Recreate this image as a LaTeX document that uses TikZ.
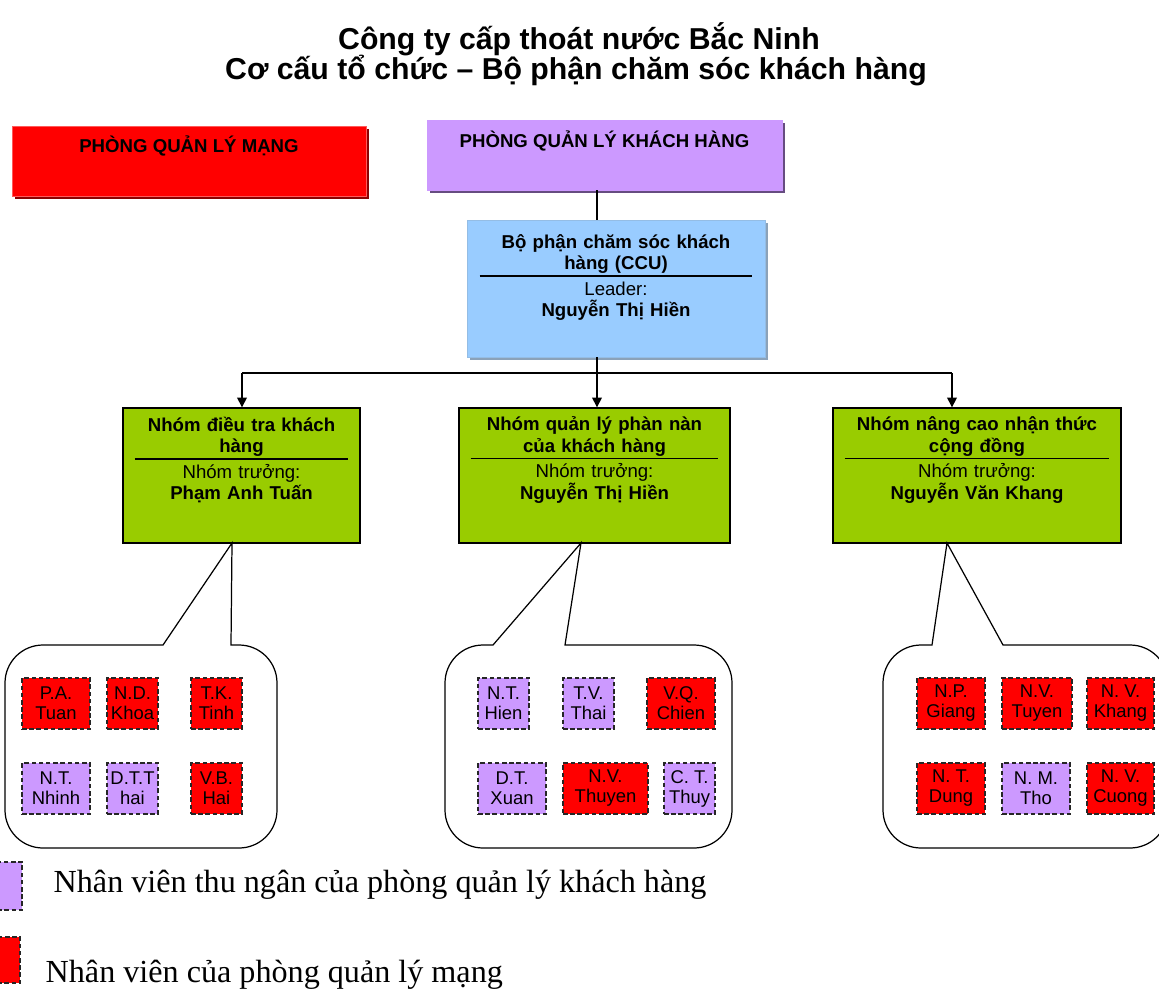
\documentclass[tikz,border=0pt]{standalone}
\usepackage{fontspec}
\setmainfont{Liberation Serif}
\newfontfamily\arialfont{Liberation Sans}
\usetikzlibrary{arrows.meta,positioning,shadows}

\definecolor{netred}{HTML}{FF0000}
\definecolor{custviolet}{HTML}{CC99FF}
\definecolor{ccublue}{HTML}{99CCFF}
\definecolor{teamgreen}{HTML}{99CC00}

\newcommand{\titlefont}{\arialfont\bfseries\fontsize{17.2}{19}\selectfont}
\newcommand{\deptfont}{\arialfont\bfseries\fontsize{10.6}{12.2}\selectfont}
\newcommand{\teamfont}{\arialfont\fontsize{10.6}{12.2}\selectfont}
\newcommand{\stafffont}{\arialfont\fontsize{10.5}{11.4}\selectfont}
\newcommand{\keyfont}{\fontsize{18.3}{20}\selectfont}

% two bold lines, a rule, the role and the bold name
\newcommand{\teamtext}[5]{\textbf{#1}\\\textbf{#2}\\[-8.2pt]\rule{#5}{0.9pt}\\[-1.6pt]#3\\\textbf{#4}}

% speech bubble: left x, right x, pointer base left x, pointer base right x, tip
\newcommand{\bubble}[5]{%
  \draw[bubbleline] (#3,645) -- (#5) -- (#4,645) -- ({#2-38},645)
    arc[start angle=-90, end angle=0, radius=38] -- (#2,810)
    arc[start angle=0, end angle=90, radius=38] -- ({#1+38},848)
    arc[start angle=90, end angle=180, radius=38] -- (#1,683)
    arc[start angle=180, end angle=270, radius=38] -- cycle;}

\begin{document}
\begin{tikzpicture}[x=0.02cm, y=-0.02cm, line width=0.8pt,
  ttl/.style={font=\titlefont, anchor=base},
  dept/.style={rectangle, inner sep=0pt, minimum height=1.4cm, line width=0.5pt},
  depttxt/.style={font=\deptfont, anchor=base},
  team/.style={rectangle, draw=black, fill=teamgreen, inner sep=0pt, minimum height=2.7cm},
  teamtxt/.style={font=\teamfont, align=center, inner sep=0pt},
  staff/.style={rectangle, draw=black!85, dash pattern=on 2.6pt off 1.5pt, line width=0.7pt,
    inner sep=0pt, minimum height=1.02cm, align=center, font=\stafffont},
  bubbleline/.style={draw=black, line width=0.7pt},
  link/.style={-{Triangle[length=5.5pt,width=5.5pt]}},
  key/.style={font=\keyfont, anchor=base west, inner sep=0pt}]
\useasboundingbox (0,0) rectangle (1159,990);

% title
\node[ttl] (ttl1) at (579,50) {Công ty cấp thoát nước Bắc Ninh};
\node[ttl] (ttl2) at (576,80) {Cơ cấu tổ chức – Bộ phận chăm sóc khách hàng};

% departments
\node[dept, fill=netred, draw=netred!65!white, minimum width=7.08cm,
  general shadow={fill=netred!55!black, shadow xshift=1.7pt, shadow yshift=-1.7pt}] (pqlm) at (189,161) {};
\node[depttxt] (pqlmtxt) at (189,153) {PHÒNG QUẢN LÝ MẠNG};
\node[dept, fill=custviolet, draw=custviolet, minimum width=7.1cm,
  general shadow={fill=custviolet!50!black, shadow xshift=1.7pt, shadow yshift=-1.7pt}] (pqlkh) at (604.5,155) {};
\node[depttxt] (pqlkhtxt) at (604.5,148) {PHÒNG QUẢN LÝ KHÁCH HÀNG};

% CCU
\node[dept, fill=ccublue, draw=ccublue!80!gray, minimum width=5.96cm, minimum height=2.74cm,
  general shadow={fill=ccublue!45!gray, shadow xshift=1.7pt, shadow yshift=-1.7pt}] (ccu) at (616,288.5) {};
\node[teamtxt, text width=5.46cm, below=8pt of ccu.north] (ccutxt)
  {\teamtext{Bộ phận chăm sóc khách}{hàng (CCU)}{Leader:}{Nguyễn Thị Hiền}{5.46cm}};

% teams
\node[team, minimum width=4.74cm] (g1) at (241.5,475.5) {};
\node[team, minimum width=5.42cm] (g2) at (594.5,475.5) {};
\node[team, minimum width=5.76cm] (g3) at (977,475.5) {};
\node[teamtxt, text width=4.28cm, below=5pt of g1.north] (g1txt)
  {\teamtext{Nhóm điều tra khách}{hàng}{Nhóm trưởng:}{Phạm Anh Tuấn}{4.28cm}};
\node[teamtxt, text width=4.96cm, below=5pt of g2.north] (g2txt)
  {\teamtext{Nhóm quản lý phàn nàn}{của khách hàng}{Nhóm trưởng:}{Nguyễn Thị Hiền}{4.96cm}};
\node[teamtxt, text width=5.3cm, below=5pt of g3.north] (g3txt)
  {\teamtext{Nhóm nâng cao nhận thức}{cộng đồng}{Nhóm trưởng:}{Nguyễn Văn Khang}{5.3cm}};

% connectors
\coordinate (bus1) at (242,373);
\coordinate (bus2) at (597,373);
\coordinate (bus3) at (952,373);
\draw (pqlkh.south -| bus2) -- (ccu.north -| bus2);
\draw (ccu.south -| bus2) -- (bus2);
\draw (bus1) -- (bus3);
\draw[link] (bus1) -- (g1.north -| bus1);
\draw[link] (bus2) -- (g2.north -| bus2);
\draw[link] (bus3) -- (g3.north -| bus3);

% bubbles
\coordinate (tip1) at (232,543);
\coordinate (tip2) at (581,543);
\coordinate (tip3) at (947,543);
\bubble{5}{277}{163}{231}{tip1}
\bubble{445}{732}{493}{565}{tip2}
\bubble{883}{1168}{932}{1003}{tip3}

% staff of team 1
\node[staff, fill=netred, minimum width=1.36cm] (s11) at (56,703.5) {P.A.\\Tuan};
\node[staff, fill=netred, minimum width=1.02cm] (s12) at (132.5,703.5) {N.D.\\Khoa};
\node[staff, fill=netred, minimum width=1.02cm] (s13) at (216.5,703.5) {T.K.\\Tinh};
\node[staff, fill=custviolet, minimum width=1.36cm] (s14) at (56,788.5) {N.T.\\Nhinh};
\node[staff, fill=custviolet, minimum width=1.02cm] (s15) at (132.5,788.5) {D.T.T\\hai};
\node[staff, fill=netred, minimum width=1.02cm] (s16) at (216.5,788.5) {V.B.\\Hai};

% staff of team 2
\node[staff, fill=custviolet, minimum width=1.02cm] (s21) at (503.5,703.5) {N.T.\\Hien};
\node[staff, fill=custviolet, minimum width=1.02cm] (s22) at (588.5,703.5) {T.V.\\Thai};
\node[staff, fill=netred, minimum width=1.36cm] (s23) at (681,703.5) {V.Q.\\Chien};
\node[staff, fill=custviolet, minimum width=1.36cm] (s24) at (512,788.5) {D.T.\\Xuan};
\node[staff, fill=netred, minimum width=1.7cm] (s25) at (605.5,788.5) {N.V.\\Thuyen};
\node[staff, fill=custviolet, minimum width=1.02cm] (s26) at (689.5,788.5) {C. T.\\Thuy};

% staff of team 3
\node[staff, fill=netred, minimum width=1.36cm] (s31) at (951,703.5) {N.P.\\Giang};
\node[staff, fill=netred, minimum width=1.4cm] (s32) at (1037,703.5) {N.V.\\Tuyen};
\node[staff, fill=netred, minimum width=1.34cm] (s33) at (1120.5,703.5) {N. V.\\Khang};
\node[staff, fill=netred, minimum width=1.36cm] (s34) at (951,788.5) {N. T.\\Dung};
\node[staff, fill=custviolet, minimum width=1.36cm] (s35) at (1036,788.5) {N. M.\\Tho};
\node[staff, fill=netred, minimum width=1.34cm] (s36) at (1120.5,788.5) {N. V.\\Cuong};

% legend
\node[staff, fill=custviolet, minimum width=0.64cm, minimum height=0.96cm] (keyP) at (6,886) {};
\node[key] (keyPtxt) at (53,892) {Nhân viên thu ngân của phòng quản lý khách hàng};
\node[staff, fill=netred, minimum width=0.6cm, minimum height=0.92cm] (keyR) at (5,960) {};
\node[key] (keyRtxt) at (45,982) {Nhân viên của phòng quản lý mạng};
\end{tikzpicture}
\end{document}
